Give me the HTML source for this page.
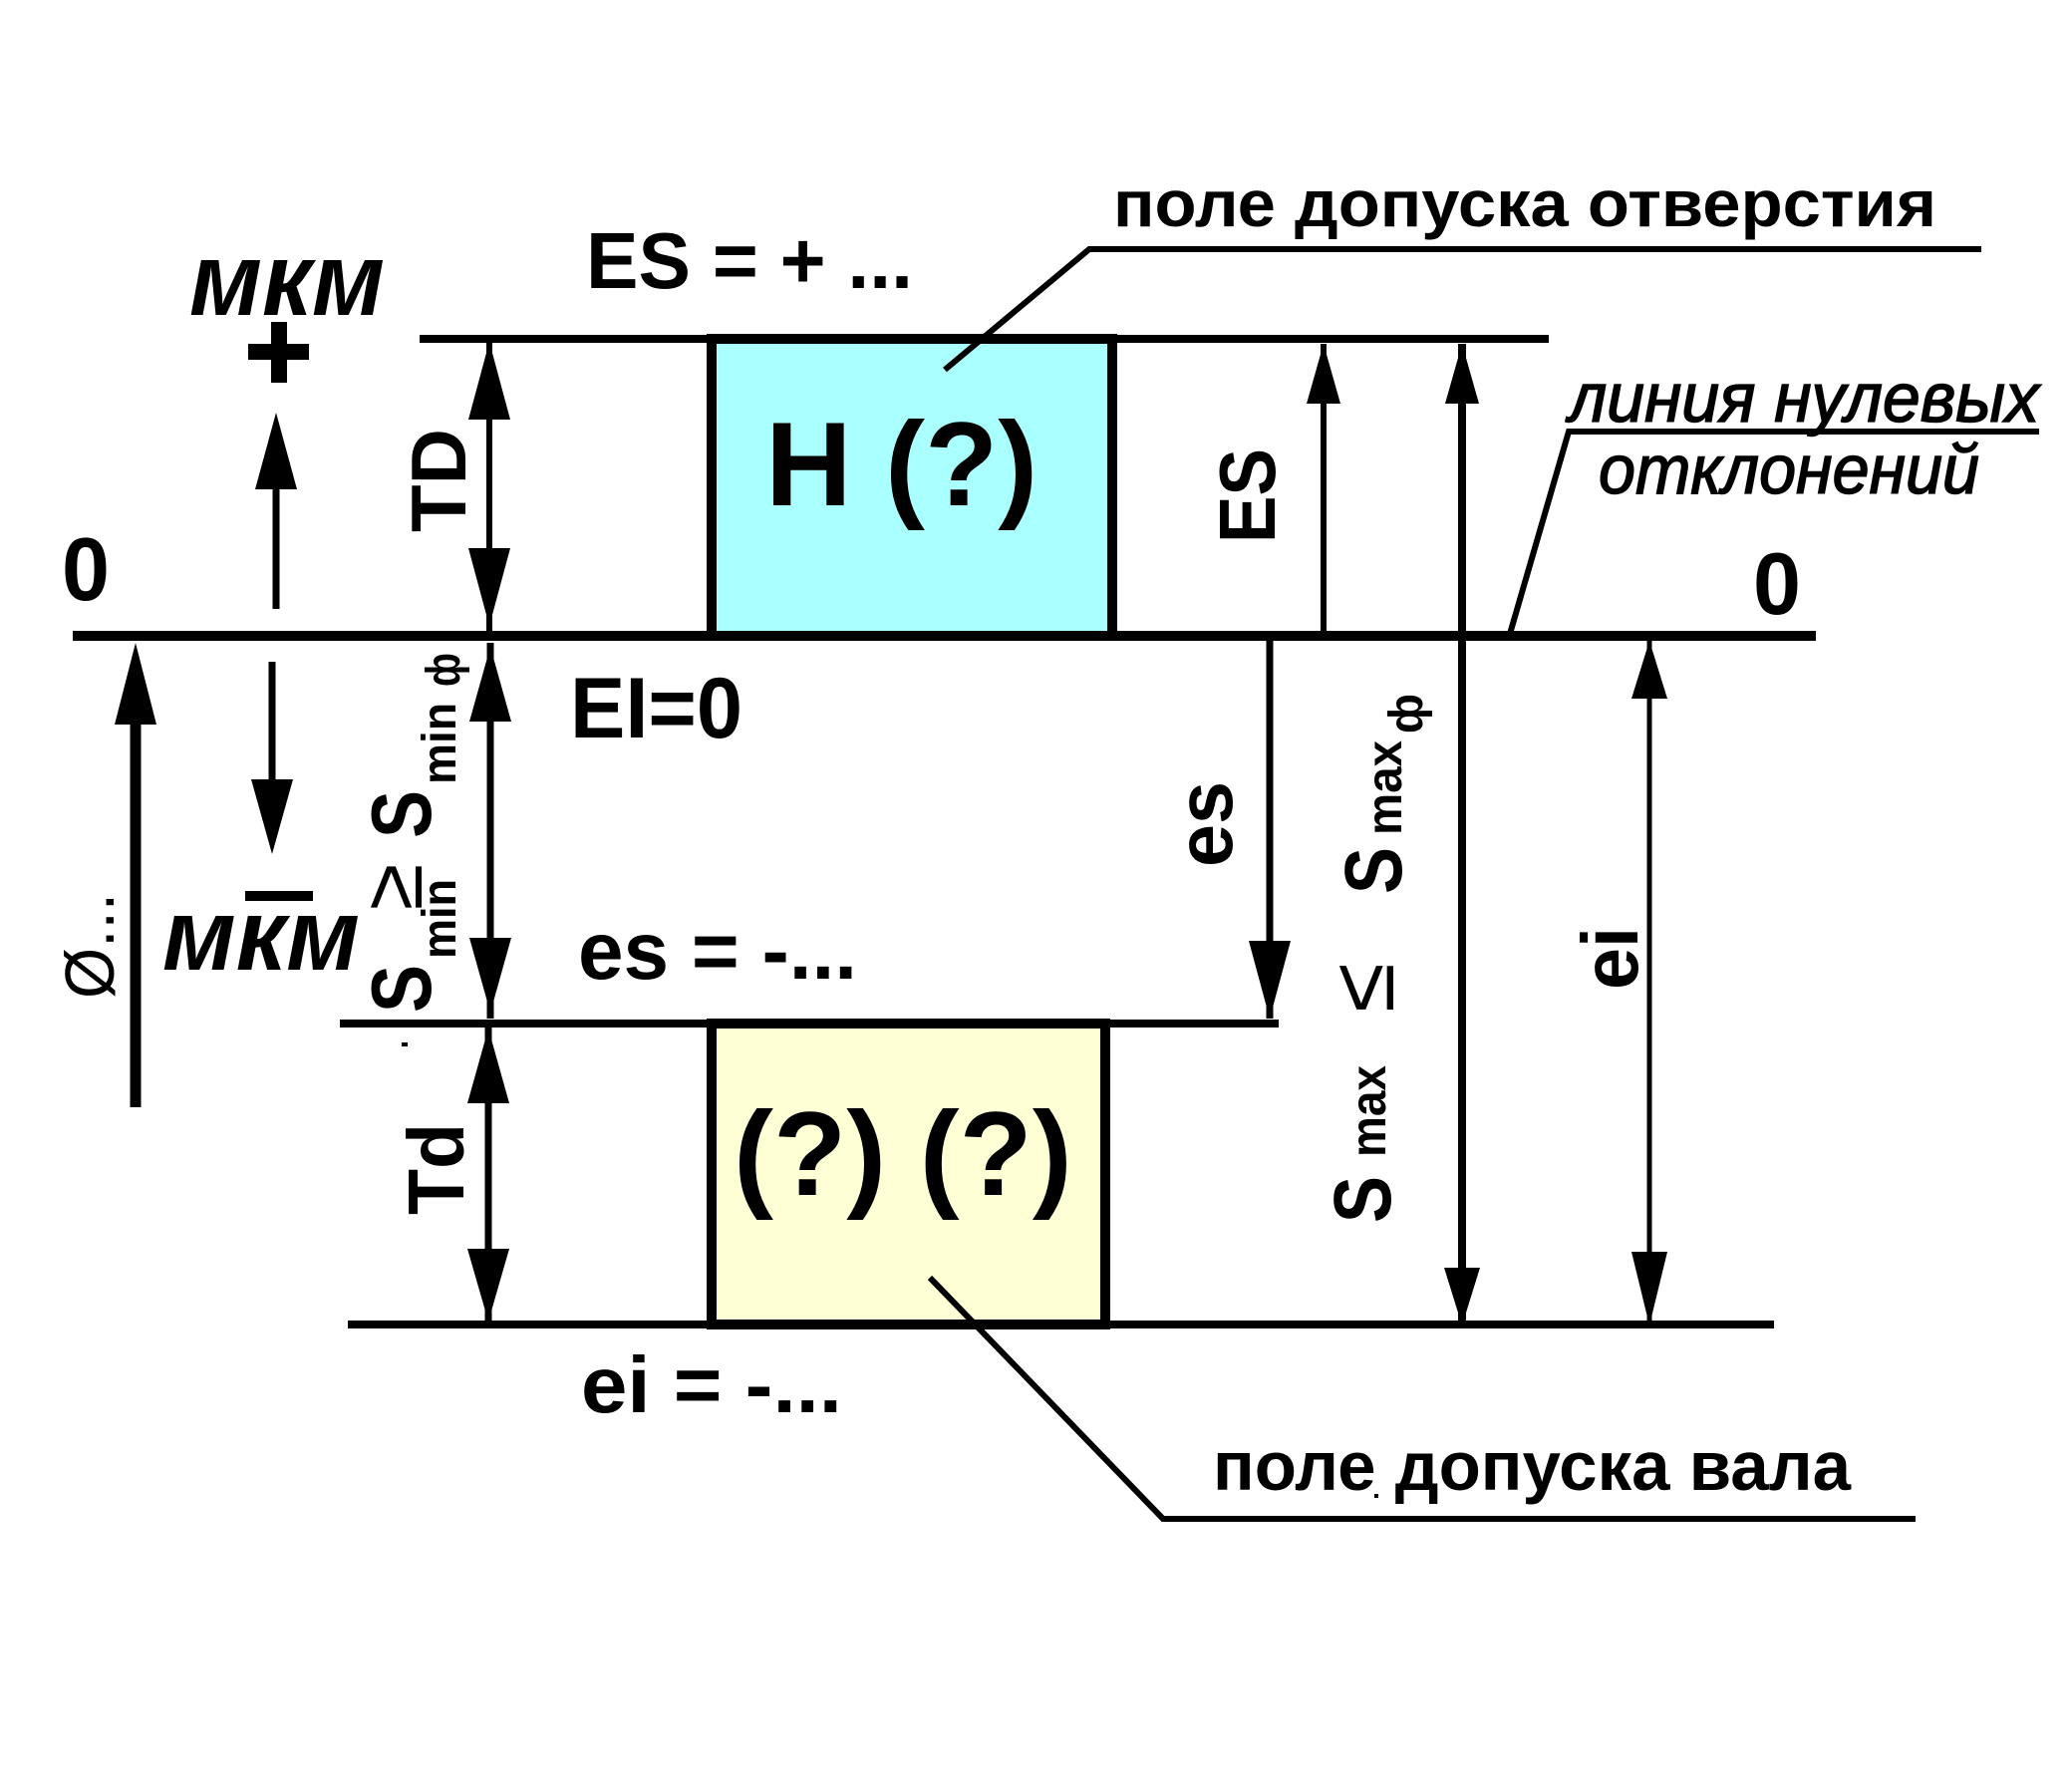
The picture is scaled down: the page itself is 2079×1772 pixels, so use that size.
<!DOCTYPE html>
<html>
<head>
<meta charset="utf-8">
<style>
html,body{margin:0;padding:0;background:#fff;}
svg{display:block;}
text{font-family:"Liberation Sans","DejaVu Sans",sans-serif;fill:#000;}
.b{font-weight:bold;}
.i{font-style:italic;}
</style>
</head>
<body>
<svg width="2079" height="1772" viewBox="0 0 2079 1772" xmlns="http://www.w3.org/2000/svg">
<rect x="0" y="0" width="2079" height="1772" fill="#fff"/>

<!-- horizontal base lines -->
<line x1="421" y1="340" x2="1554" y2="340" stroke="#000" stroke-width="8"/>
<line x1="73" y1="638" x2="1822" y2="638" stroke="#000" stroke-width="10"/>
<line x1="341" y1="1027" x2="1283" y2="1027" stroke="#000" stroke-width="8"/>
<line x1="349" y1="1329" x2="1780" y2="1329" stroke="#000" stroke-width="8"/>

<!-- boxes -->
<rect x="714" y="340" width="402" height="298" fill="#AAFFFF" stroke="#000" stroke-width="10"/>
<rect x="714" y="1027" width="395" height="302" fill="#FFFFD6" stroke="#000" stroke-width="10"/>

<text x="768" y="507" class="b" font-size="120">H (?)</text>
<text x="736" y="1199" class="b" font-size="120">(?) (?)</text>

<!-- leaders -->
<polyline points="948,371 1093,250 1988,250" fill="none" stroke="#000" stroke-width="6"/>
<polyline points="1515,636 1574,433 2046,433" fill="none" stroke="#000" stroke-width="6"/>
<polyline points="933,1282 1167,1524 1922,1524" fill="none" stroke="#000" stroke-width="6"/>

<text x="1117" y="227" class="b" font-size="66" textLength="826" lengthAdjust="spacingAndGlyphs">поле допуска отверстия</text>
<text x="1574" y="423" class="i" font-size="70" stroke="#000" stroke-width="1.5" textLength="472" lengthAdjust="spacingAndGlyphs">линия нулевых</text>
<text x="1604" y="495" class="i" font-size="70" stroke="#000" stroke-width="1.5" textLength="382" lengthAdjust="spacingAndGlyphs">отклонений</text>
<text x="1217" y="1495" class="b" font-size="70" textLength="640" lengthAdjust="spacingAndGlyphs">поле допуска вала</text>
<rect x="1379" y="1499" width="4" height="4" fill="#000"/>

<!-- left labels -->
<text x="588" y="289" class="b" font-size="80" textLength="328" lengthAdjust="spacingAndGlyphs">ES = + ...</text>
<text x="572" y="740" class="b" font-size="86" textLength="173" lengthAdjust="spacingAndGlyphs">EI=0</text>
<text x="580" y="982" class="b" font-size="82" textLength="280" lengthAdjust="spacingAndGlyphs">es = -...</text>
<text x="583" y="1417" class="b" font-size="80" textLength="262" lengthAdjust="spacingAndGlyphs">ei = -...</text>

<text x="190" y="316" class="b i" font-size="104" textLength="196" lengthAdjust="spacingAndGlyphs">мкм</text>
<text x="163" y="973" class="b i" font-size="102" textLength="198" lengthAdjust="spacingAndGlyphs">мкм</text>
<rect x="246" y="894" width="68" height="10" fill="#000"/>
<rect x="272" y="323" width="16" height="61" fill="#000"/>
<rect x="249" y="345" width="61" height="16" fill="#000"/>

<text x="62" y="602" class="b" font-size="90" textLength="48" lengthAdjust="spacingAndGlyphs">0</text>
<text x="1759" y="616" class="b" font-size="88" textLength="48" lengthAdjust="spacingAndGlyphs">0</text>

<!-- plus/minus arrows -->
<line x1="277" y1="480" x2="277" y2="611" stroke="#000" stroke-width="7"/>
<polygon points="277,414 256,491 298,491" fill="#000"/>
<line x1="273" y1="664" x2="273" y2="790" stroke="#000" stroke-width="7"/>
<polygon points="273,857 252,782 294,782" fill="#000"/>

<!-- diameter arrow -->
<line x1="136" y1="720" x2="136" y2="1111" stroke="#000" stroke-width="11"/>
<polygon points="136,645 115,727 157,727" fill="#000"/>
<text transform="translate(114,1002) rotate(-90)" font-size="70" textLength="106" lengthAdjust="spacingAndGlyphs">Ø...</text>

<!-- TD -->
<line x1="491" y1="343" x2="491" y2="633" stroke="#000" stroke-width="6"/>
<polygon points="491,343 470,421 512,421" fill="#000"/>
<polygon points="491,628 470,550 512,550" fill="#000"/>
<text transform="translate(467,534) rotate(-90)" class="b" font-size="78" textLength="104" lengthAdjust="spacingAndGlyphs">TD</text>

<!-- Smin -->
<line x1="492" y1="645" x2="492" y2="1022" stroke="#000" stroke-width="7"/>
<polygon points="492,649 471,724 513,724" fill="#000"/>
<polygon points="492,1016 471,941 513,941" fill="#000"/>
<text transform="translate(432,1016) rotate(-90)" class="b" font-size="85" textLength="48" lengthAdjust="spacingAndGlyphs">S</text>
<text transform="translate(457,962) rotate(-90)" class="b" font-size="48" textLength="80" lengthAdjust="spacingAndGlyphs">min</text>
<text transform="translate(394,890) rotate(-90)" font-size="85" text-anchor="middle" y="29">≥</text>
<text transform="translate(432,841) rotate(-90)" class="b" font-size="85" textLength="48" lengthAdjust="spacingAndGlyphs">S</text>
<text transform="translate(457,787) rotate(-90)" class="b" font-size="48" textLength="82" lengthAdjust="spacingAndGlyphs">min</text>
<text transform="translate(461,689) rotate(-90)" class="b" font-size="48" textLength="34" lengthAdjust="spacingAndGlyphs">ф</text>
<rect x="403" y="1046" width="6" height="4" fill="#000"/>

<!-- Td -->
<line x1="490" y1="1031" x2="490" y2="1326" stroke="#000" stroke-width="7"/>
<polygon points="490,1032 469,1107 511,1107" fill="#000"/>
<polygon points="490,1326 469,1253 511,1253" fill="#000"/>
<text transform="translate(465,1219) rotate(-90)" class="b" font-size="80" textLength="92" lengthAdjust="spacingAndGlyphs">Td</text>

<!-- ES -->
<line x1="1328" y1="345" x2="1328" y2="636" stroke="#000" stroke-width="6"/>
<polygon points="1328,345 1311,405 1345,405" fill="#000"/>
<text transform="translate(1279,545) rotate(-90)" class="b" font-size="80" textLength="95" lengthAdjust="spacingAndGlyphs">ES</text>

<!-- Smax -->
<line x1="1467" y1="345" x2="1467" y2="1330" stroke="#000" stroke-width="8"/>
<polygon points="1467,345 1450,405 1484,405" fill="#000"/>
<polygon points="1467,1330 1449,1272 1485,1272" fill="#000"/>
<text transform="translate(1395,1227) rotate(-90)" class="b" font-size="82" textLength="47" lengthAdjust="spacingAndGlyphs">S</text>
<text transform="translate(1390,1161) rotate(-90)" class="b" font-size="50" textLength="92" lengthAdjust="spacingAndGlyphs">max</text>
<text transform="translate(1368,991) rotate(-90)" font-size="90" text-anchor="middle" y="30">≤</text>
<text transform="translate(1406,897) rotate(-90)" class="b" font-size="82" textLength="47" lengthAdjust="spacingAndGlyphs">S</text>
<text transform="translate(1406,838) rotate(-90)" class="b" font-size="50" textLength="95" lengthAdjust="spacingAndGlyphs">max</text>
<text transform="translate(1427,736) rotate(-90)" class="b" font-size="48" textLength="40" lengthAdjust="spacingAndGlyphs">ф</text>

<!-- es -->
<line x1="1274" y1="643" x2="1274" y2="1022" stroke="#000" stroke-width="7"/>
<polygon points="1274,1022 1253,944 1295,944" fill="#000"/>
<text transform="translate(1236,870) rotate(-90)" class="b" font-size="80" textLength="86" lengthAdjust="spacingAndGlyphs">es</text>

<!-- ei -->
<line x1="1655" y1="643" x2="1655" y2="1330" stroke="#000" stroke-width="5"/>
<polygon points="1655,643 1637,701 1673,701" fill="#000"/>
<polygon points="1655,1330 1637,1256 1673,1256" fill="#000"/>
<text transform="translate(1643,993) rotate(-90)" class="b" font-size="80" textLength="63" lengthAdjust="spacingAndGlyphs">ei</text>
</svg>
</body>
</html>
